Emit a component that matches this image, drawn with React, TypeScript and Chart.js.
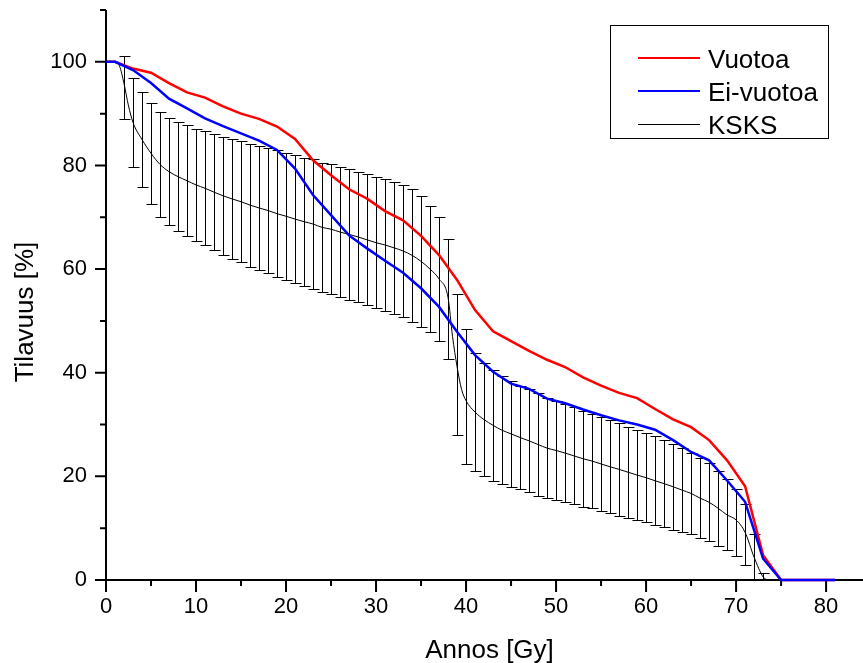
import React, { useEffect, useRef } from "react";
import { Chart, registerables } from "chart.js";

Chart.register(...registerables);

const FONT = "'Liberation Sans', Arial, Helvetica, sans-serif";

// Vuotoa (red)
const vuotoaDose = [0, 1, 3, 5, 7, 9, 11, 13, 15, 17, 19, 21, 23, 25, 27, 29, 31, 33, 35, 37, 39, 41, 43, 45, 47, 49, 51, 53, 55, 57, 59, 61, 63, 65, 67, 69, 71, 73, 75, 81];
const vuotoaVolume = [100, 100, 98.7, 97.9, 95.9, 94.1, 93.1, 91.4, 90.0, 89.0, 87.5, 85.1, 81.0, 78.1, 75.4, 73.6, 71.2, 69.4, 66.4, 62.7, 57.9, 52.1, 48.0, 46.1, 44.2, 42.5, 41.1, 39.1, 37.5, 36.1, 35.1, 33.0, 31.0, 29.5, 27.0, 23.1, 18.1, 4.8, 0, 0];

// Ei-vuotoa (blue)
const eiVuotoaDose = [0, 1, 3, 5, 7, 9, 11, 13, 15, 17, 19, 21, 23, 25, 27, 29, 31, 33, 35, 37, 39, 41, 43, 45, 47, 49, 51, 53, 55, 57, 59, 61, 63, 65, 67, 69, 71, 73, 75, 81];
const eiVuotoaVolume = [100, 100, 98.4, 95.9, 92.9, 91.0, 89.1, 87.6, 86.2, 84.8, 83.0, 79.4, 74.3, 70.4, 66.5, 64.0, 61.6, 59.3, 56.3, 52.7, 47.9, 43.4, 40.2, 37.9, 36.9, 35.0, 34.1, 32.9, 31.8, 30.8, 30.0, 29.0, 27.0, 24.7, 23.1, 19.2, 15.1, 4.1, 0, 0];

// KSKS (black thin line)
const ksksDose = [0, 1, 1.5, 2, 2.5, 3, 4, 5, 6, 7, 8, 9, 10, 11, 12, 13, 14, 15, 16, 17, 18, 19, 20, 21, 22, 23, 24, 25, 26, 27, 28, 29, 30, 31, 32, 33, 34, 35, 36, 37, 38, 38.5, 39, 39.5, 40, 41, 42, 43, 44, 45, 46, 47, 48, 49, 50, 51, 52, 53, 54, 55, 56, 57, 58, 59, 60, 61, 62, 63, 64, 65, 66, 67, 68, 69, 70, 71, 72, 73, 73.5];
const ksksVolume = [100, 100, 99.2, 95.8, 91.5, 88.3, 85.0, 82.35, 80.2, 78.8, 77.85, 77.05, 76.25, 75.6, 74.85, 74.15, 73.55, 73.0, 72.35, 71.8, 71.3, 70.7, 70.2, 69.65, 69.15, 68.7, 68.05, 67.7, 67.15, 66.7, 66.2, 65.65, 65.1, 64.65, 64.1, 63.5, 62.65, 61.5, 60.0, 58.1, 54.5, 47.0, 41.2, 36.8, 34.6, 32.4, 30.95, 29.85, 28.9, 28.2, 27.5, 26.85, 26.15, 25.45, 25.0, 24.5, 23.95, 23.4, 22.95, 22.4, 21.85, 21.35, 20.8, 20.25, 19.75, 19.15, 18.6, 18.0, 17.35, 16.7, 15.8, 15.0, 13.85, 12.55, 11.6, 9.2, 4.4, 0.6, 0];

// KSKS error bars (mean ± SD)
const barDose = [2, 3, 4, 5, 6, 7, 8, 9, 10, 11, 12, 13, 14, 15, 16, 17, 18, 19, 20, 21, 22, 23, 24, 25, 26, 27, 28, 29, 30, 31, 32, 33, 34, 35, 36, 37, 38, 39, 40, 41, 42, 43, 44, 45, 46, 47, 48, 49, 50, 51, 52, 53, 54, 55, 56, 57, 58, 59, 60, 61, 62, 63, 64, 65, 66, 67, 68, 69, 70, 71, 72, 73];
const barMean = [95.05, 88.3, 85.0, 82.35, 80.2, 78.8, 77.85, 77.05, 76.25, 75.6, 74.85, 74.15, 73.55, 73.0, 72.35, 71.8, 71.3, 70.7, 70.2, 69.65, 69.15, 68.7, 68.05, 67.7, 67.15, 66.7, 66.2, 65.65, 65.1, 64.65, 64.1, 63.5, 62.65, 61.5, 60.0, 58.1, 54.25, 41.5, 35.4, 32.45, 30.95, 29.85, 28.9, 28.2, 27.5, 26.85, 26.15, 25.45, 25.0, 24.5, 23.95, 23.4, 22.95, 22.4, 21.85, 21.35, 20.8, 20.25, 19.75, 19.15, 18.6, 18.0, 17.35, 16.7, 15.8, 15.0, 13.85, 12.55, 11.1, 8.8, 4.4, 0.7];
const barSD = [6.05, 8.6, 9.2, 9.75, 10.1, 10.3, 10.55, 10.75, 10.85, 11.0, 11.25, 11.35, 11.55, 11.7, 11.85, 12.0, 12.1, 12.3, 12.3, 12.35, 12.35, 12.5, 12.45, 12.5, 12.55, 12.6, 12.6, 12.65, 12.7, 12.75, 12.7, 12.8, 12.85, 12.7, 12.2, 12.0, 11.55, 13.6, 13.1, 11.45, 10.95, 10.65, 10.4, 10.2, 10.0, 9.95, 9.85, 9.65, 9.5, 9.4, 9.35, 9.3, 9.15, 9.1, 8.95, 8.95, 8.8, 8.75, 8.65, 8.55, 8.4, 8.3, 8.15, 7.9, 7.7, 7.5, 7.25, 6.85, 6.4, 5.9, 4.4, 0.65];

// Axis ticks
const xMajorTicks = [0, 10, 20, 30, 40, 50, 60, 70, 80];
const xMinorTicks = [5, 15, 25, 35, 45, 55, 65, 75];
const yMajorTicks = [0, 20, 40, 60, 80, 100];
const yMinorTicks = [10, 30, 50, 70, 90, 110];

const xTitle = "Annos [Gy]";
const yTitle = "Tilavuus [%]";
const seriesLabels = ["Vuotoa", "Ei-vuotoa", "KSKS"];
const seriesColors = ["#ff0000", "#0000ff", "#000000"];

const toPoints = (xs: number[], ys: number[]) => xs.map((x, i) => ({ x, y: ys[i] }));

export default function App() {
  const ref = useRef<HTMLCanvasElement>(null);

  useEffect(() => {
    const canvas = ref.current;
    if (!canvas) return;

    const axesPlugin = {
      id: "axesPlugin",
      beforeDatasetsDraw(chart: any) {
        const { ctx, chartArea, scales } = chart;
        const xs = scales.x;
        const ys = scales.y;
        ctx.save();
        ctx.strokeStyle = "#000";
        ctx.lineWidth = 2;
        ctx.lineCap = "butt";
        ctx.beginPath();
        ctx.moveTo(chartArea.left, chartArea.top);
        ctx.lineTo(chartArea.left, chartArea.bottom + 1);
        ctx.moveTo(chartArea.left - 1, chartArea.bottom);
        ctx.lineTo(chartArea.right, chartArea.bottom);
        for (const v of yMajorTicks) {
          const p = ys.getPixelForValue(v);
          ctx.moveTo(chartArea.left - 11, p);
          ctx.lineTo(chartArea.left, p);
        }
        for (const v of yMinorTicks) {
          const p = ys.getPixelForValue(v);
          ctx.moveTo(chartArea.left - 6, p);
          ctx.lineTo(chartArea.left, p);
        }
        for (const v of xMajorTicks) {
          const p = xs.getPixelForValue(v);
          ctx.moveTo(p, chartArea.bottom);
          ctx.lineTo(p, chartArea.bottom + 12);
        }
        for (const v of xMinorTicks) {
          const p = xs.getPixelForValue(v);
          ctx.moveTo(p, chartArea.bottom);
          ctx.lineTo(p, chartArea.bottom + 6);
        }
        ctx.stroke();

        // error bars
        ctx.lineWidth = 1;
        ctx.strokeStyle = "#000";
        ctx.beginPath();
        barDose.forEach((d, i) => {
          const px = Math.round(xs.getPixelForValue(d)) + 0.5;
          const top = Math.round(ys.getPixelForValue(barMean[i] + barSD[i])) + 0.5;
          const bot = Math.round(ys.getPixelForValue(barMean[i] - barSD[i])) + 0.5;
          ctx.moveTo(px, top);
          ctx.lineTo(px, bot);
          ctx.moveTo(px - 5, top);
          ctx.lineTo(px + 6, top);
          ctx.moveTo(px - 5, bot);
          ctx.lineTo(px + 6, bot);
        });
        ctx.stroke();
        ctx.restore();
      },
    };

    const decorPlugin = {
      id: "decorPlugin",
      afterDraw(chart: any) {
        const { ctx, chartArea } = chart;
        ctx.save();
        ctx.fillStyle = "#000";
        ctx.font = `26px ${FONT}`;
        // axis titles
        ctx.textAlign = "center";
        ctx.textBaseline = "alphabetic";
        ctx.fillText(xTitle, (chartArea.left + chartArea.right) / 2 + 5, chartArea.bottom + 78);
        ctx.save();
        ctx.translate(chartArea.left - 73, (chartArea.top + chartArea.bottom) / 2 + 17);
        ctx.rotate(-Math.PI / 2);
        ctx.fillText(yTitle, 0, 0);
        ctx.restore();

        // legend
        const bx = 610.5, by = 25.5, bw = 218, bh = 113;
        ctx.strokeStyle = "#000";
        ctx.lineWidth = 1;
        ctx.strokeRect(bx, by, bw, bh);
        ctx.textAlign = "left";
        const widths = [2, 2, 1];
        seriesLabels.forEach((lab, i) => {
          const cy = 58 + i * 33;
          ctx.strokeStyle = seriesColors[i];
          ctx.lineWidth = widths[i];
          ctx.beginPath();
          ctx.moveTo(638, widths[i] === 1 ? cy + 0.5 : cy);
          ctx.lineTo(700, widths[i] === 1 ? cy + 0.5 : cy);
          ctx.stroke();
          ctx.fillStyle = "#000";
          ctx.fillText(lab, 708, cy + 9.5);
        });
        ctx.restore();
      },
    };

    const chart = new Chart(canvas, {
      type: "line",
      data: {
        datasets: [
          {
            label: seriesLabels[1],
            data: toPoints(eiVuotoaDose, eiVuotoaVolume),
            borderColor: seriesColors[1],
            borderWidth: 2.5,
            pointRadius: 0,
            tension: 0,
            clip: false,
            order: 0,
          },
          {
            label: seriesLabels[0],
            data: toPoints(vuotoaDose, vuotoaVolume),
            borderColor: seriesColors[0],
            borderWidth: 2.5,
            pointRadius: 0,
            tension: 0,
            clip: false,
            order: 1,
          },
          {
            label: seriesLabels[2],
            data: toPoints(ksksDose, ksksVolume),
            borderColor: seriesColors[2],
            borderWidth: 1,
            pointRadius: 0,
            cubicInterpolationMode: "monotone",
            clip: false,
            order: 2,
          },
        ],
      } as any,
      options: {
        responsive: false,
        animation: false,
        devicePixelRatio: 1,
        layout: { padding: { top: 10, left: 0, right: 0, bottom: 0 } },
        plugins: {
          legend: { display: false },
          tooltip: { enabled: false },
        },
        scales: {
          x: {
            type: "linear",
            min: 0,
            max: 84.1,
            grid: { display: false, drawTicks: false, tickLength: 0 },
            border: { display: false },
            ticks: {
              stepSize: 10,
              includeBounds: false,
              padding: 14,
              color: "#000",
              maxRotation: 0,
              autoSkip: false,
              font: { family: FONT, size: 22 },
            },
            afterFit: (s: any) => {
              s.height = 83;
              s.paddingLeft = 0;
              s.paddingRight = 0;
            },
          },
          y: {
            type: "linear",
            min: 0,
            max: 110,
            grid: { display: false, drawTicks: false, tickLength: 0 },
            border: { display: false },
            ticks: {
              stepSize: 20,
              includeBounds: false,
              padding: 19,
              color: "#000",
              font: { family: FONT, size: 22 },
            },
            afterFit: (s: any) => {
              s.width = 106;
              s.paddingTop = 0;
              s.paddingBottom = 0;
            },
          },
        },
      } as any,
      plugins: [axesPlugin, decorPlugin],
    });

    return () => chart.destroy();
  }, []);

  return (
    <div style={{ position: "absolute", left: 0, top: 0, width: 863, height: 663, background: "#fff" }}>
      <canvas ref={ref} width={863} height={663} style={{ display: "block" }} />
    </div>
  );
}
